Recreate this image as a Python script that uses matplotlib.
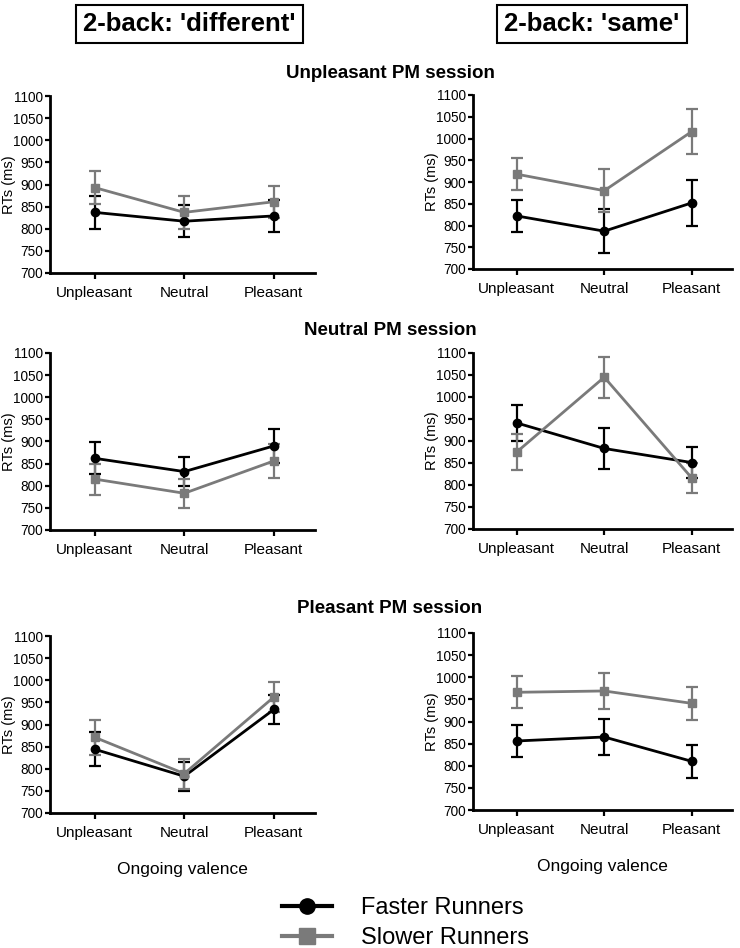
import matplotlib
matplotlib.use('Agg')
import matplotlib.pyplot as plt
from matplotlib.lines import Line2D

plt.rcParams['font.family'] = ['Liberation Sans', 'DejaVu Sans']

W = 740
H = 948

categories = ['Unpleasant', 'Neutral', 'Pleasant']
yticks = [700, 750, 800, 850, 900, 950, 1000, 1050, 1100]

# Unpleasant PM session
unpl_diff_fast = [837, 817, 829]
unpl_diff_fast_err = [38, 36, 36]
unpl_diff_slow = [893, 837, 861]
unpl_diff_slow_err = [37, 37, 36]
unpl_same_fast = [822, 787, 852]
unpl_same_fast_err = [37, 50, 52]
unpl_same_slow = [918, 880, 1016]
unpl_same_slow_err = [37, 50, 52]

# Neutral PM session
neut_diff_fast = [862, 832, 890]
neut_diff_fast_err = [36, 33, 38]
neut_diff_slow = [815, 783, 856]
neut_diff_slow_err = [35, 33, 38]
neut_same_fast = [941, 883, 851]
neut_same_fast_err = [40, 46, 35]
neut_same_slow = [875, 1045, 816]
neut_same_slow_err = [40, 47, 34]

# Pleasant PM session
plea_diff_fast = [844, 783, 934]
plea_diff_fast_err = [38, 33, 33]
plea_diff_slow = [871, 789, 962]
plea_diff_slow_err = [39, 34, 33]
plea_same_fast = [856, 865, 810]
plea_same_fast_err = [36, 41, 37]
plea_same_slow = [966, 969, 941]
plea_same_slow_err = [36, 41, 37]

black = '#000000'
grey = '#7a7a7a'


# axes box in pixels: left, top, right, bottom
def makeAxes(fig, box):
    l, t, r, b = box
    return fig.add_axes([l / W, 1 - b / H, (r - l) / W, (b - t) / H])


def plotPanel(ax, fast, fast_err, slow, slow_err):
    x = list(range(len(categories)))
    ax.errorbar(x, fast, yerr=fast_err, color=black, marker='o', markersize=6,
                linewidth=2, elinewidth=1.6, capsize=4.3, capthick=1.6)
    ax.errorbar(x, slow, yerr=slow_err, color=grey, marker='s', markersize=6,
                linewidth=2, elinewidth=1.6, capsize=4.3, capthick=1.6)

    ax.set_xlim(-0.5, 2.46)
    ax.set_ylim(700, 1100)
    ax.set_xticks(x)
    ax.set_xticklabels(categories, fontsize=11)
    ax.set_yticks(yticks)
    ax.set_yticklabels([str(v) for v in yticks], fontsize=9.8)
    ax.spines['top'].set_visible(False)
    ax.spines['right'].set_visible(False)
    ax.spines['left'].set_linewidth(2)
    ax.spines['bottom'].set_linewidth(2)
    ax.tick_params(axis='y', length=3.6, width=1.6, pad=1.5)
    ax.tick_params(axis='x', length=4.5, width=1.6, pad=5)
    ax.set_ylabel('RTs (ms)', fontsize=10.5)
    ax.yaxis.set_label_coords(-0.13, 0.5)


def main():
    fig = plt.figure(figsize=(W / 100, H / 100), dpi=100)

    panels = [
        ((50, 96, 315, 273), unpl_diff_fast, unpl_diff_fast_err, unpl_diff_slow, unpl_diff_slow_err),
        ((473, 95, 732, 269), unpl_same_fast, unpl_same_fast_err, unpl_same_slow, unpl_same_slow_err),
        ((50, 353, 315, 530), neut_diff_fast, neut_diff_fast_err, neut_diff_slow, neut_diff_slow_err),
        ((473, 353, 732, 529), neut_same_fast, neut_same_fast_err, neut_same_slow, neut_same_slow_err),
        ((50, 636, 315, 813), plea_diff_fast, plea_diff_fast_err, plea_diff_slow, plea_diff_slow_err),
        ((473, 633, 732, 810), plea_same_fast, plea_same_fast_err, plea_same_slow, plea_same_slow_err),
    ]
    axes = []
    for box, f, fe, s, se in panels:
        ax = makeAxes(fig, box)
        plotPanel(ax, f, fe, s, se)
        axes.append(ax)

    for ax in axes[4:]:
        ax.set_xlabel('Ongoing valence', fontsize=12.5, labelpad=16)

    # column headers
    box = dict(boxstyle='square,pad=0.28', fc='white', ec='black', lw=1.5)
    fig.text(189.5 / W, 1 - 31 / H, "2-back: 'different'", fontsize=18.5, fontweight='bold',
             ha='center', va='baseline', bbox=box)
    fig.text(592 / W, 1 - 31 / H, "2-back: 'same'", fontsize=18.5, fontweight='bold',
             ha='center', va='baseline', bbox=box)

    # session titles
    fig.text(390 / W, 1 - 78 / H, 'Unpleasant PM session', fontsize=13.5, fontweight='bold',
             ha='center', va='baseline')
    fig.text(390 / W, 1 - 335 / H, 'Neutral PM session', fontsize=13.5, fontweight='bold',
             ha='center', va='baseline')
    fig.text(390 / W, 1 - 613 / H, 'Pleasant PM session', fontsize=13.5, fontweight='bold',
             ha='center', va='baseline')

    handles = [
        Line2D([], [], color=black, marker='o', markersize=11, linewidth=3),
        Line2D([], [], color=grey, marker='s', markersize=11, linewidth=3),
    ]
    fig.legend(handles, ['Faster Runners', 'Slower Runners'], loc='center left',
               bbox_to_anchor=(282 / W, 1 - 923 / H), frameon=False, fontsize=17,
               handlelength=2.1, handletextpad=1.25, borderpad=0, borderaxespad=0,
               labelspacing=0.35)

    fig.savefig('out.png', dpi=100)


if __name__ == "__main__":
    main()
